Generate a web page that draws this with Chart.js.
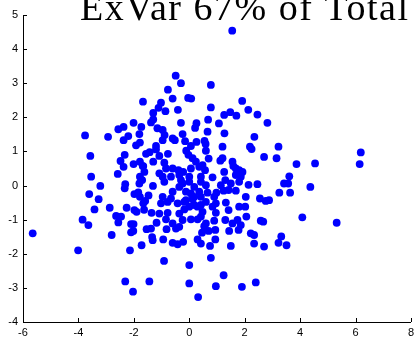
<!DOCTYPE html>
<html>
<head>
<meta charset="utf-8">
<script src="https://cdn.jsdelivr.net/npm/chart.js@4.4.1/dist/chart.umd.min.js"></script>
<style>
  html, body { margin: 0; padding: 0; background: #fff; }
  #wrap { width: 418px; height: 341px; position: relative; }
</style>
</head>
<body>
<div id="wrap"><canvas id="scoreChart"></canvas></div>
<script>
// component scores, first vs second axis
var scoreX = [
  1.55,-0.49,-0.30,0.78,-0.77,-1.67,-0.60,-0.04,0.07,-1.02,
  -1.11,-0.86,-1.30,-0.41,0.78,1.91,2.13,2.46,1.48,1.26,
  1.70,2.82,-1.30,-1.38,-2.01,-1.73,-2.37,-2.56,-3.76,-2.93,
  -2.20,-2.37,-1.80,-0.30,0.68,1.07,0.26,0.21,-1.15,-0.96,
  -0.89,-0.96,-0.24,0.66,1.27,2.35,-0.60,-0.52,-0.15,0.26,
  0.55,0.59,-1.78,-1.92,-1.20,-1.20,-1.43,-1.56,-0.77,-0.11,
  0.06,0.60,1.20,2.19,2.25,3.22,-1.08,-0.03,0.12,0.70,
  1.12,1.20,1.56,2.70,3.15,-1.68,-1.30,-0.90,-0.84,-0.60,
  -0.39,-0.22,0.06,0.24,0.36,0.48,0.57,0.42,0.84,1.26,
  1.59,1.68,1.86,1.80,-1.08,-0.96,-0.36,0.00,-3.57,-2.33,
  -2.48,-2.01,-1.78,-1.66,-2.37,-3.54,-2.58,-1.78,3.87,4.54,
  6.19,6.15,3.61,3.42,3.57,3.25,3.64,4.37,2.88,4.08,
  5.32,3.32,3.22,3.51,-2.31,-2.33,-1.80,-1.70,-1.31,-3.21,
  -3.61,-3.27,-1.98,-1.84,-1.78,-1.47,-1.59,-1.66,-3.42,-2.87,
  -2.26,-1.98,-1.90,-1.63,-1.36,-2.64,-2.46,-2.56,-3.85,-3.64,
  -2.10,-2.01,-2.10,-2.02,-1.54,-1.38,-1.18,-2.80,-1.34,-1.32,
  -1.72,-5.65,-4.01,-2.14,-2.31,-1.44,-2.03,-1.62,-0.90,-0.66,
  1.68,1.50,1.30,1.14,0.60,0.42,0.18,-0.24,-0.36,-0.60,
  -0.12,0.06,0.36,0.66,0.98,1.24,1.42,1.68,2.14,2.46,
  -0.96,-1.02,-0.78,-0.42,-0.18,0.12,0.18,0.00,-0.18,0.42,
  0.48,0.96,1.32,1.42,1.80,2.02,2.04,2.55,2.76,-1.08,
  -0.78,-0.84,-0.60,-0.24,0.06,0.30,0.90,1.30,1.56,1.74,
  2.06,2.58,2.67,-0.82,-0.36,0.54,0.46,0.70,0.94,1.44,
  1.78,2.22,2.34,-0.94,-0.60,-0.42,-0.22,0.30,0.42,0.94,
  0.75,1.50,2.34,2.70,-0.91,0.00,0.78,0.00,1.24,0.96,
  1.90,2.40,0.32,-0.30,0.00,0.18,-0.12,0.30,-0.36,-0.48,
  -0.66,1.92,0.42,0.60,0.90,1.80,0.96,0.84,0.42,0.60,
  1.86
];
var scoreY = [
  4.54,3.22,3.00,2.95,2.81,2.46,2.55,2.57,2.55,2.43,
  2.28,2.18,2.13,2.22,2.29,2.48,2.22,2.08,2.15,2.07,
  2.05,1.84,1.94,1.85,1.84,1.72,1.72,1.65,1.47,1.43,
  1.45,1.33,1.51,1.84,1.93,1.82,1.83,1.69,1.68,1.63,
  1.48,1.33,1.51,1.58,1.53,1.43,1.38,1.33,1.30,1.28,
  1.31,1.22,1.26,1.18,1.16,1.06,0.98,0.93,0.93,1.02,
  1.16,1.02,1.14,1.14,1.07,1.14,0.87,0.90,0.80,0.79,
  0.73,0.80,0.70,0.84,0.80,0.57,0.70,0.67,0.50,0.50,
  0.45,0.40,0.50,0.70,0.55,0.60,0.45,0.26,0.24,0.40,
  0.57,0.50,0.26,0.45,0.36,0.26,0.31,0.26,0.87,0.90,
  0.72,0.63,0.70,0.57,0.55,0.26,0.34,0.26,0.63,0.65,
  0.97,0.63,0.27,0.06,0.06,-0.21,-0.21,-0.04,-0.43,-0.93,
  -1.09,-1.49,-1.68,-1.75,0.04,-0.08,0.06,0.16,-0.01,-0.01,
  -0.25,-0.40,-0.25,-0.20,-0.33,-0.29,-0.45,-0.52,-0.70,-0.65,
  -0.65,-0.72,-0.77,-0.71,-0.80,-0.89,-0.91,-1.08,-1.00,-1.16,
  -1.13,-1.13,-1.37,-1.33,-1.28,-1.26,-1.09,-1.45,-1.51,-1.60,
  -1.75,-1.40,-1.90,-1.90,-2.81,-2.81,-3.11,0.40,0.11,0.26,
  0.31,0.06,0.16,0.01,0.01,0.11,-0.04,0.06,-0.04,-0.18,
  -0.18,-0.23,-0.18,-0.21,-0.21,-0.15,-0.13,-0.15,0.02,0.04,
  -0.33,-0.52,-0.48,-0.52,-0.48,-0.40,-0.57,-0.62,-0.70,-0.57,
  -0.77,-0.80,-0.50,-0.72,-0.62,-0.62,-0.33,-0.38,-0.45,-0.82,
  -0.80,-0.99,-1.11,-1.01,-0.99,-0.99,-1.03,-1.01,-1.11,-1.01,
  -0.91,-1.03,-1.06,-1.28,-1.21,-1.19,-1.38,-1.33,-1.30,-1.33,
  -1.30,-1.40,-1.45,-1.58,-1.68,-1.72,-1.65,-1.58,-1.70,-1.58,
  -1.77,-1.77,-1.70,-1.79,-2.21,-2.33,-2.12,-2.87,-2.63,-2.95,
  -2.97,-2.84,-3.27,0.16,0.11,-0.33,-0.43,-0.62,-0.82,-1.26,
  -0.38,0.40,-0.33,-0.48,-0.33,0.11,-0.52,-0.62,-0.91,-1.11,
  -1.16
];
var xTicks = [-6, -4, -2, 0, 2, 4, 6, 8];
var yTicks = [-4, -3, -2, -1, 0, 1, 2, 3, 4, 5];
var titleText = 'ExVar 67% of Total';

var points = scoreX.map(function (x, i) { return { x: x, y: scoreY[i] }; });

// ticks point into the plot, like the old figure style
var innerTicks = {
  id: 'innerTicks',
  afterDraw: function (chart) {
    var ctx = chart.ctx, area = chart.chartArea;
    var xs = chart.scales.x, ys = chart.scales.y;
    ctx.save();
    ctx.strokeStyle = '#000';
    ctx.lineWidth = 1;
    ctx.beginPath();
    xTicks.forEach(function (v) {
      var px = Math.round(xs.getPixelForValue(v)) + 0.5;
      ctx.moveTo(px, area.bottom);
      ctx.lineTo(px, area.bottom - 4);
    });
    yTicks.forEach(function (v) {
      var py = Math.round(ys.getPixelForValue(v)) + 0.5;
      ctx.moveTo(area.left, py);
      ctx.lineTo(area.left + 4, py);
    });
    ctx.stroke();
    ctx.restore();
  }
};

// big serif heading, partly cut off by the top edge; spread to span 80..408
var headline = {
  id: 'headline',
  afterDraw: function (chart) {
    var ctx = chart.ctx;
    ctx.save();
    ctx.font = '38px "Liberation Serif"';
    ctx.letterSpacing = '0px';
    var w = ctx.measureText(titleText).width;
    var gap = Math.max(0, (328 - w) / (titleText.length - 1));
    ctx.letterSpacing = gap.toFixed(2) + 'px';
    ctx.fillStyle = '#000';
    ctx.textBaseline = 'alphabetic';
    ctx.textAlign = 'left';
    ctx.fillText(titleText, 80, 20);
    ctx.restore();
  }
};

new Chart(document.getElementById('scoreChart').getContext('2d'), {
  type: 'scatter',
  data: {
    datasets: [{
      data: points,
      backgroundColor: '#0000ff',
      borderWidth: 0,
      pointRadius: 3.9,
      pointHoverRadius: 3.9
    }]
  },
  options: {
    responsive: true,
    maintainAspectRatio: false,
    animation: false,
    events: [],
    layout: { padding: { top: 15, right: 6, left: 0, bottom: 0 } },
    plugins: {
      legend: { display: false },
      tooltip: { enabled: false }
    },
    scales: {
      x: {
        type: 'linear',
        min: -6,
        max: 8,
        afterBuildTicks: function (s) { s.ticks = xTicks.map(function (v) { return { value: v }; }); },
        afterFit: function (s) { s.height = 19; },
        grid: { display: false, drawTicks: false },
        border: { display: true, color: '#000', width: 1 },
        ticks: {
          color: '#000',
          padding: 4,
          maxRotation: 0,
          font: { family: '"Liberation Sans", Arial, sans-serif', size: 11 }
        }
      },
      y: {
        type: 'linear',
        min: -4,
        max: 5,
        afterBuildTicks: function (s) { s.ticks = yTicks.map(function (v) { return { value: v }; }); },
        afterFit: function (s) { s.width = 23; },
        grid: { display: false, drawTicks: false },
        border: { display: true, color: '#000', width: 1 },
        ticks: {
          color: '#000',
          padding: 5,
          font: { family: '"Liberation Sans", Arial, sans-serif', size: 11 }
        }
      }
    }
  },
  plugins: [innerTicks, headline]
});
</script>
</body>
</html>
